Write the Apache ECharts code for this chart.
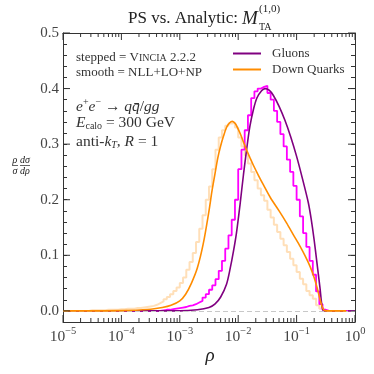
<!DOCTYPE html>
<html><head><meta charset="utf-8">
<script src="https://cdn.jsdelivr.net/npm/echarts@6/dist/echarts.min.js"></script>
<style>html,body{margin:0;padding:0;background:#fff}#c{width:374px;height:374px}</style>
</head><body><div id="c"></div>
<script>
// ---- data ----
const xTickExponents = [-5, -4, -3, -2, -1, 0];
const xMinorMantissas = [2, 3, 4, 5, 6, 7, 8, 9];
const yTickLabels = [0.0, 0.1, 0.2, 0.3, 0.4, 0.5];
const histLogStart = -5;          // log10(rho) of first bin edge
const histBinsPerDecade = 18;     // bin width in log10(rho)

// stepped = Vincia 2.2.2 (gluons)
const gluonHist = [
  0,0,0,0,0,0,0,0,0,0,
  0,0,0,0,0,0,0,0,0,0,
  0,0,0,0,0,0,0,0,0,0,
  0.001,0.002,0.002,0.003,0.004,0.005,0.006,0.007,0.009,0.010,
  0.012,0.015,0.018,0.024,0.030,0.038,0.046,0.057,0.072,0.090,
  0.112,0.136,0.164,0.200,0.255,0.290,0.325,0.352,0.383,0.395,
  0.400,0.403,0.405,0.392,0.380,0.360,0.340,0.318,0.296,0.272,
  0.250,0.225,0.200,0.170,0.140,0.115,0.090,0.065,0.035,0.012,
  0.002,0,0,0,0,0,0,0,0,0
];
// stepped = Vincia 2.2.2 (down quarks)
const quarkHist = [
  0,0,0,0,0,0,0,0,0.001,0.001,
  0.001,0.001,0.001,0.002,0.002,0.002,0.002,0.003,0.003,0.004,
  0.004,0.004,0.005,0.005,0.006,0.007,0.008,0.009,0.011,0.014,
  0.017,0.021,0.025,0.030,0.036,0.042,0.050,0.060,0.074,0.088,
  0.104,0.124,0.148,0.172,0.200,0.224,0.255,0.290,0.312,0.325,
  0.333,0.337,0.338,0.330,0.312,0.296,0.280,0.265,0.250,0.235,
  0.220,0.208,0.198,0.182,0.168,0.155,0.142,0.130,0.118,0.106,
  0.094,0.082,0.070,0.058,0.048,0.036,0.028,0.022,0.010,0.004,
  0.001,0,0,0,0,0,0,0,0,0
];
// smooth = NLL+LO+NP
const gluonSmoothLogRho = [-5,-3.0,-2.7,-2.5,-2.4,-2.3,-2.2,-2.14,-2.08,-2.03,-1.97,-1.91,-1.85,-1.8,-1.74,-1.68,-1.6,-1.54,-1.47,-1.4,-1.3,-1.2,-1.1,-1.0,-0.9,-0.8,-0.75,-0.7,-0.65,-0.6,-0.57,-0.55,-0.53,-0.15];
const gluonSmoothVal    = [0,0,0.002,0.006,0.012,0.025,0.048,0.075,0.108,0.14,0.19,0.245,0.295,0.332,0.362,0.383,0.396,0.400,0.397,0.388,0.368,0.343,0.313,0.278,0.238,0.195,0.165,0.128,0.085,0.042,0.012,0.002,0,0];
const quarkSmoothLogRho = [-5,-4.0,-3.5,-3.3,-3.15,-3.0,-2.9,-2.8,-2.7,-2.6,-2.5,-2.45,-2.4,-2.35,-2.3,-2.25,-2.2,-2.15,-2.1,-2.05,-2.0,-1.95,-1.9,-1.85,-1.8,-1.74,-1.65,-1.57,-1.45,-1.3,-1.17,-1.05,-0.94,-0.85,-0.77,-0.7,-0.65,-0.6,-0.56,-0.53,-0.5,-0.15];
const quarkSmoothVal    = [0,0.0005,0.003,0.006,0.01,0.018,0.03,0.05,0.077,0.12,0.18,0.215,0.245,0.275,0.297,0.315,0.330,0.338,0.341,0.337,0.327,0.315,0.301,0.288,0.276,0.262,0.243,0.227,0.204,0.18,0.158,0.136,0.116,0.098,0.08,0.06,0.042,0.021,0.007,0.001,0,0];

// ---- build ----
function histSteps(vals) {
  const pts = vals.map((v, i) => [Math.pow(10, histLogStart + i / histBinsPerDecade), v]);
  pts.push([Math.pow(10, histLogStart + vals.length / histBinsPerDecade), vals[vals.length - 1]]);
  return pts;
}
function curve(lx, vals) { return lx.map((l, i) => [Math.pow(10, l), vals[i]]); }

const SERIF = '"Liberation Serif", "DejaVu Serif", serif';
const AX = '#333';
const LBL = '#444';
const MAJOR_LEN = 7, MINOR_LEN = 4;
const XMIN = Math.pow(10, xTickExponents[0]), XMAX = Math.pow(10, xTickExponents[xTickExponents.length - 1]);
const YMIN = -0.02, YMAX = yTickLabels[yTickLabels.length - 1];
const GRID = { left: 63, right: 19, top: 33, bottom: 52 };
const plotW = 374 - GRID.left - GRID.right, plotH = 374 - GRID.top - GRID.bottom;
const yPerPx = (YMAX - YMIN) / plotH;
const decPerPx = (xTickExponents.length - 1) / plotW;

// tick marks as a broken line series (pixel lengths converted to data units)
const tickData = [];
function xTick(rho, len) {
  tickData.push([rho, YMIN], [rho, YMIN + len * yPerPx], [rho, null]);
  tickData.push([rho, YMAX], [rho, YMAX - len * yPerPx], [rho, null]);
}
xTickExponents.forEach(e => xTick(Math.pow(10, e), MAJOR_LEN));
xTickExponents.slice(0, -1).forEach(e => xMinorMantissas.forEach(m => xTick(m * Math.pow(10, e), MINOR_LEN)));
yTickLabels.forEach(v => {
  tickData.push([XMIN, v], [XMIN * Math.pow(10, MAJOR_LEN * decPerPx), v], [XMIN, null]);
  tickData.push([XMAX, v], [XMAX / Math.pow(10, MAJOR_LEN * decPerPx), v], [XMAX, null]);
});

function xLog(pos, showLabel) {
  return {
    type: 'log', logBase: 10, min: XMIN, max: XMAX, position: pos, splitNumber: 5,
    axisLine: { show: true, onZero: false, lineStyle: { color: AX, width: 1 } },
    axisTick: { show: false }, minorTick: { show: false },
    splitLine: { show: false }, minorSplitLine: { show: false },
    axisLabel: {
      show: showLabel, margin: 4, color: LBL,
      formatter: v => { const e = Math.round(Math.log10(v)); return '{b|10}{e|' + (e < 0 ? '\u2212' + (-e) : e) + '}'; },
      rich: {
        b: { fontSize: 15.5, fontFamily: SERIF, color: LBL },
        e: { fontSize: 10.5, fontFamily: SERIF, color: LBL, padding: [0, 0, 11, 0] }
      }
    }
  };
}
function yAx(pos, showLabel) {
  return {
    type: 'value', min: YMIN, max: YMAX, interval: 0.02, position: pos,
    axisLine: { show: true, onZero: false, lineStyle: { color: AX } },
    axisTick: { show: true, inside: true, length: MINOR_LEN, lineStyle: { color: AX } },
    splitLine: { show: false },
    axisLabel: { show: showLabel, customValues: yTickLabels, margin: 4, color: LBL, fontSize: 15, fontFamily: SERIF,
      formatter: v => v.toFixed(1) }
  };
}

const graphic = [
  { type: 'text', x: 128, y: 19, style: { text: 'PS vs. Analytic:', font: '17px ' + SERIF, fill: '#222', textVerticalAlign: 'middle' } },
  { type: 'text', x: 242, y: 19, style: { text: 'M', font: 'italic 19px ' + SERIF, fill: '#222', textVerticalAlign: 'middle' } },
  { type: 'text', x: 259, y: 9, style: { text: '(1,0)', font: '11px ' + SERIF, fill: '#222', textVerticalAlign: 'middle' } },
  { type: 'text', x: 259, y: 27, style: { text: 'TA', font: '10px ' + SERIF, fill: '#222', textVerticalAlign: 'middle' } },

  { type: 'text', x: 76, y: 58, style: { text: 'stepped = {v|V}{s|INCIA} 2.2.2', font: '13px ' + SERIF, fill: '#333', textVerticalAlign: 'middle',
    rich: { v: { fontSize: 13, fontFamily: SERIF, fill: '#333' }, s: { fontSize: 10, fontFamily: SERIF, fill: '#333', padding: [1, 0, 0, 0] } } } },
  { type: 'text', x: 76, y: 73, style: { text: 'smooth = NLL+LO+NP', font: '13px ' + SERIF, fill: '#333', textVerticalAlign: 'middle' } },

  { type: 'text', x: 76, y: 107, style: { text: '{i|e}{sup|+}{i|e}{sup|\u2212}{n| \u2192 }{i|q}{i|q\u0304}{n|/}{i|gg}', font: '15.5px ' + SERIF, fill: '#333', textVerticalAlign: 'middle',
    rich: { i: { fontSize: 15.5, fontStyle: 'italic', fontFamily: SERIF, fill: '#333' }, n: { fontSize: 15.5, fontFamily: SERIF, fill: '#333' },
            sup: { fontSize: 10, fontFamily: SERIF, fill: '#333', padding: [0, 0, 9, 0] } } } },
  { type: 'text', x: 76, y: 123, style: { text: '{i|E}{sub|calo}{n| = 300 GeV}', font: '15.5px ' + SERIF, fill: '#333', textVerticalAlign: 'middle',
    rich: { i: { fontSize: 15.5, fontStyle: 'italic', fontFamily: SERIF, fill: '#333' }, n: { fontSize: 15.5, fontFamily: SERIF, fill: '#333' },
            sub: { fontSize: 10, fontFamily: SERIF, fill: '#333', padding: [7, 0, 0, 0] } } } },
  { type: 'text', x: 76, y: 142, style: { text: '{n|anti-}{i|k}{sub|T}{n|, }{i|R}{n| = 1}', font: '15.5px ' + SERIF, fill: '#333', textVerticalAlign: 'middle',
    rich: { i: { fontSize: 15.5, fontStyle: 'italic', fontFamily: SERIF, fill: '#333' }, n: { fontSize: 15.5, fontFamily: SERIF, fill: '#333' },
            sub: { fontSize: 10, fontStyle: 'italic', fontFamily: SERIF, fill: '#333', padding: [7, 0, 0, 0] } } } },

  // y-axis label: rho/sigma dsigma/drho
  { type: 'text', x: 15, y: 160, style: { text: '\u03c1', font: 'italic 10px ' + SERIF, fill: '#222', textAlign: 'center', textVerticalAlign: 'middle' } },
  { type: 'line', shape: { x1: 12, y1: 165.5, x2: 18, y2: 165.5 }, style: { stroke: '#222', lineWidth: 0.7 } },
  { type: 'text', x: 15, y: 171, style: { text: '\u03c3', font: 'italic 10px ' + SERIF, fill: '#222', textAlign: 'center', textVerticalAlign: 'middle' } },
  { type: 'text', x: 25, y: 160, style: { text: 'd\u03c3', font: 'italic 10px ' + SERIF, fill: '#222', textAlign: 'center', textVerticalAlign: 'middle' } },
  { type: 'line', shape: { x1: 20, y1: 165.5, x2: 30, y2: 165.5 }, style: { stroke: '#222', lineWidth: 0.7 } },
  { type: 'text', x: 25, y: 171, style: { text: 'd\u03c1', font: 'italic 10px ' + SERIF, fill: '#222', textAlign: 'center', textVerticalAlign: 'middle' } },

  // x-axis label
  { type: 'text', x: 210, y: 356, style: { text: '\u03c1', font: 'italic 19px ' + SERIF, fill: '#222', textAlign: 'center', textVerticalAlign: 'middle' } }
];

const chart = echarts.init(document.getElementById('c'), null, { renderer: 'canvas' });
chart.setOption({
  animation: false,
  backgroundColor: '#fff',
  grid: GRID,
  xAxis: [xLog('bottom', true), xLog('top', false)],
  yAxis: [yAx('left', true), yAx('right', false)],
  legend: {
    data: ['Gluons', 'Down Quarks'], orient: 'vertical', left: 228, top: 42,
    icon: 'rect', itemWidth: 28, itemHeight: 2, itemGap: 3,
    textStyle: { fontFamily: SERIF, fontSize: 13, color: '#333', padding: [0, 0, 0, 6] }
  },
  series: [
    { name: 'zero', type: 'line', data: [], z: 1, silent: true,
      markLine: { silent: true, symbol: 'none', label: { show: false },
        lineStyle: { color: '#c8c8c8', type: [5, 3], width: 1 }, data: [{ yAxis: 0 }] } },
    { name: 'Down Quarks (Vincia)', type: 'line', step: 'end', data: histSteps(quarkHist), showSymbol: false, z: 2,
      lineStyle: { color: 'rgba(255,140,0,0.28)', width: 2 } },
    { name: 'Gluons (Vincia)', type: 'line', step: 'end', data: histSteps(gluonHist), showSymbol: false, z: 3,
      lineStyle: { color: '#ff00ff', width: 1.8 } },
    { name: 'Gluons', type: 'line', smooth: 0.3, data: curve(gluonSmoothLogRho, gluonSmoothVal), showSymbol: false, z: 4,
      color: '#800080', lineStyle: { color: '#800080', width: 1.6 } },
    { name: 'Down Quarks', type: 'line', smooth: 0.3, data: curve(quarkSmoothLogRho, quarkSmoothVal), showSymbol: false, z: 5,
      color: '#ff8c00', lineStyle: { color: '#ff8c00', width: 1.6 } },
    { name: 'ticks', type: 'line', data: tickData, showSymbol: false, connectNulls: false, clip: false, silent: true, z: 6,
      color: AX, lineStyle: { color: AX, width: 1 } }
  ],
  graphic
});
</script>
</body></html>
